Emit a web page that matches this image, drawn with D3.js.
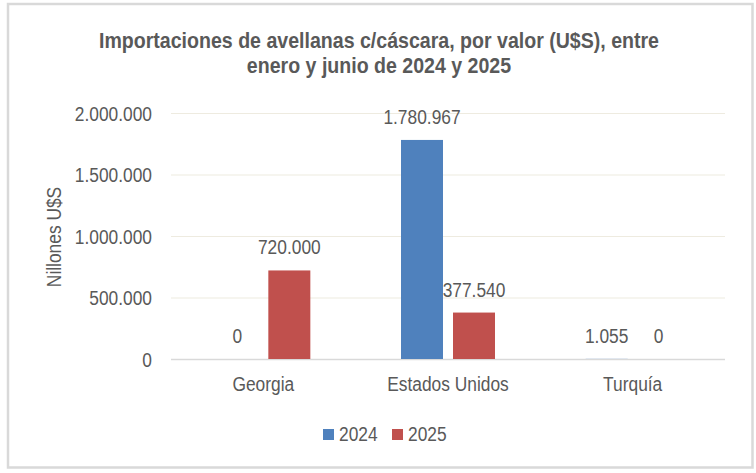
<!DOCTYPE html>
<html>
<head>
<meta charset="utf-8">
<script src="https://d3js.org/d3.v7.min.js"></script>
<style>
  body { margin: 0; background: #fff; }
  text { font-family: "Liberation Sans", Arial, sans-serif; fill: #595959; }
</style>
</head>
<body>
<div id="chart"></div>
<script>
// data
var categories = ["Georgia", "Estados Unidos", "Turquía"];
var series = ["2024", "2025"];
var values2024 = [0, 1780967, 1055];
var values2025 = [720000, 377540, 0];
var yTicks = [0, 500000, 1000000, 1500000, 2000000];
var titleLines = ["Importaciones de avellanas c/cáscara, por valor (U$S), entre", "enero y junio de 2024 y 2025"];
var colors = ["#4F81BD", "#C0504D"];

var width = 756,
    height = 473;

var es = d3.formatLocale({decimal: ",", thousands: ".", grouping: [3], currency: ["$", ""]});
var fmt = es.format(",d");

var svg = d3.select("#chart")
    .append("svg")
    .attr("width", width)
    .attr("height", height);

svg.append("rect")
    .attr("width", width).attr("height", height)
    .attr("fill", "#fff");

// outer frame
svg.append("rect")
    .attr("x", 8).attr("y", 4)
    .attr("width", 744.5).attr("height", 463.5)
    .attr("fill", "none")
    .attr("stroke", "#D9D9D9")
    .attr("stroke-width", 2.5);

var x = d3.scaleBand()
    .domain(categories)
    .range([171, 725]);

var xs = d3.scaleBand()
    .domain(series)
    .range([-47, 47])
    .paddingInner(10 / 52);

var y = d3.scaleLinear()
    .domain([0, 2000000])
    .range([359, 113]);

// text in the picture is a bit narrow, squeeze it horizontally
function squeeze(sel, k) {
    sel.each(function() {
        var len = this.getComputedTextLength();
        d3.select(this)
            .attr("textLength", len * k)
            .attr("lengthAdjust", "spacingAndGlyphs");
    });
}

// y axis with gridlines
var yAxis = svg.append("g")
    .attr("transform", "translate(171,0)")
    .call(d3.axisLeft(y).tickValues(yTicks).tickSize(-554).tickPadding(19).tickFormat(fmt));
yAxis.select(".domain").remove();
yAxis.selectAll("line")
    .attr("stroke", function(d) { return d === 0 ? "#D9D9D9" : "#EEEBE0"; })
    .attr("stroke-width", function(d) { return d === 0 ? 1.5 : 1.2; });
yAxis.selectAll("text")
    .attr("font-size", 19.5)
    .attr("dy", 7)
    .style("fill", "#595959")
    .call(squeeze, 0.89);
yAxis.attr("font-family", null);

// x axis labels
var xAxis = svg.append("g")
    .attr("transform", "translate(0,359)")
    .call(d3.axisBottom(x).tickSize(0));
xAxis.select(".domain").remove();
xAxis.attr("font-family", null);
xAxis.selectAll("text")
    .attr("y", 32)
    .attr("dy", 0)
    .attr("font-size", 19.5)
    .style("fill", "#595959")
    .call(squeeze, 0.89);

// bars
var rows = categories.map(function(c, i) {
    return {cat: c, vals: [values2024[i], values2025[i]]};
});

var groups = svg.append("g")
    .selectAll("g")
    .data(rows)
    .enter().append("g")
    .attr("transform", function(d) { return "translate(" + (x(d.cat) + x.bandwidth() / 2) + ",0)"; });

var cells = groups.selectAll("g")
    .data(function(d) { return d.vals.map(function(v, j) { return {s: series[j], v: v, j: j}; }); })
    .enter().append("g");

cells.append("rect")
    .attr("x", function(d) { return xs(d.s); })
    .attr("y", function(d) { return y(d.v); })
    .attr("width", xs.bandwidth())
    .attr("height", function(d) { return y(0) - y(d.v); })
    .attr("fill", function(d) { return colors[d.j]; });

cells.append("text")
    .attr("x", function(d) { return xs(d.s) + xs.bandwidth() / 2; })
    .attr("y", function(d) { return y(d.v) - 16; })
    .attr("text-anchor", "middle")
    .attr("font-size", 19.5)
    .text(function(d) { return fmt(d.v); })
    .call(squeeze, 0.89);

// y axis title
svg.append("text")
    .attr("transform", "translate(61,237) rotate(-90)")
    .attr("text-anchor", "middle")
    .attr("font-size", 19.5)
    .text("Nillones U$S")
    .call(squeeze, 0.89);

// title
svg.append("g")
    .selectAll("text")
    .data(titleLines)
    .enter().append("text")
    .attr("x", 379)
    .attr("y", function(d, i) { return 48 + i * 25; })
    .attr("text-anchor", "middle")
    .attr("font-size", 21.5)
    .attr("font-weight", "bold")
    .text(function(d) { return d; })
    .call(squeeze, 0.91);

// legend
var legend = svg.append("g")
    .selectAll("g")
    .data(series)
    .enter().append("g")
    .attr("transform", function(d, i) { return "translate(" + (323 + i * 69) + ",0)"; });

legend.append("rect")
    .attr("y", 429)
    .attr("width", 11)
    .attr("height", 11)
    .attr("fill", function(d, i) { return colors[i]; });

legend.append("text")
    .attr("x", 16)
    .attr("y", 441)
    .attr("font-size", 19.5)
    .text(function(d) { return d; })
    .call(squeeze, 0.89);
</script>
</body>
</html>
